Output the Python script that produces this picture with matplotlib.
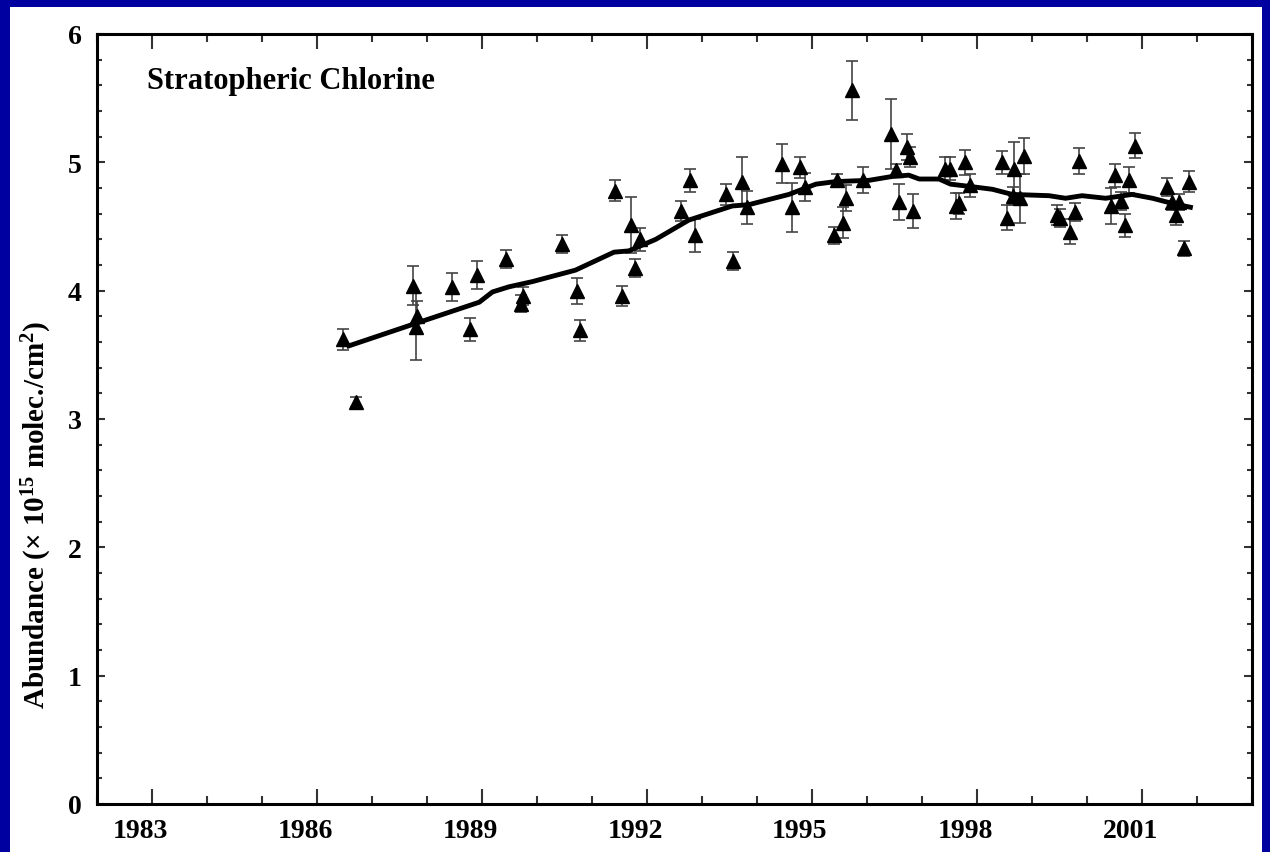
import matplotlib
matplotlib.use("Agg")
import matplotlib.pyplot as plt
import matplotlib.transforms as mtransforms
from matplotlib.patches import Rectangle
from matplotlib.ticker import MultipleLocator

plt.rcParams['font.family'] = ['Liberation Serif', 'DejaVu Serif']
plt.rcParams['font.weight'] = 'bold'
plt.rcParams['mathtext.fontset'] = 'custom'
plt.rcParams['mathtext.rm'] = 'Liberation Serif:bold'
plt.rcParams['mathtext.bf'] = 'Liberation Serif:bold'
plt.rcParams['mathtext.default'] = 'bf'

# measurements (year, abundance, 1-sigma)
obs_year = [1986.47, 1986.70, 1987.75, 1987.82, 1987.80, 1988.45, 1988.79, 1988.91,
            1989.44, 1989.70, 1989.75, 1990.45, 1990.73, 1990.78, 1991.42, 1991.55,
            1991.70, 1991.79, 1991.88, 1992.62, 1992.78, 1992.88, 1993.43, 1993.56,
            1993.72, 1993.81, 1994.45, 1994.64, 1994.78, 1994.87, 1995.40, 1995.46,
            1995.57, 1995.61, 1995.73, 1995.92, 1996.44, 1996.52, 1996.59, 1996.72,
            1996.78, 1996.84, 1997.42, 1997.50, 1997.61, 1997.67, 1997.79, 1997.88,
            1998.45, 1998.55, 1998.65, 1998.67, 1998.79, 1998.86, 1999.46, 1999.50,
            1999.69, 1999.78, 1999.85, 2000.43, 2000.51, 2000.61, 2000.69, 2000.76,
            2000.87, 2001.46, 2001.54, 2001.61, 2001.67, 2001.77, 2001.86]
obs_val = [3.62, 3.13, 4.04, 3.80, 3.72, 4.03, 3.70, 4.12,
           4.25, 3.90, 3.96, 4.36, 4.00, 3.69, 4.78, 3.96,
           4.51, 4.18, 4.40, 4.62, 4.86, 4.43, 4.75, 4.23,
           4.85, 4.65, 4.99, 4.65, 4.96, 4.81, 4.43, 4.86,
           4.53, 4.72, 5.56, 4.86, 5.22, 4.94, 4.69, 5.12,
           5.04, 4.62, 4.95, 4.95, 4.66, 4.68, 5.00, 4.82,
           5.00, 4.57, 4.74, 4.95, 4.72, 5.05, 4.59, 4.57,
           4.46, 4.61, 5.01, 4.66, 4.90, 4.70, 4.51, 4.86,
           5.13, 4.81, 4.69, 4.59, 4.69, 4.33, 4.85]
obs_err = [0.08, 0.04, 0.15, 0.12, 0.26, 0.11, 0.09, 0.11,
           0.07, 0.07, 0.07, 0.07, 0.10, 0.08, 0.08, 0.08,
           0.22, 0.07, 0.09, 0.08, 0.09, 0.13, 0.08, 0.07,
           0.19, 0.13, 0.15, 0.19, 0.08, 0.11, 0.07, 0.05,
           0.12, 0.10, 0.23, 0.10, 0.27, 0.05, 0.14, 0.10,
           0.08, 0.13, 0.09, 0.09, 0.10, 0.08, 0.10, 0.09,
           0.09, 0.10, 0.07, 0.21, 0.19, 0.14, 0.08, 0.07,
           0.10, 0.07, 0.10, 0.14, 0.09, 0.07, 0.09, 0.10,
           0.10, 0.07, 0.06, 0.08, 0.06, 0.06, 0.08]

# running mean curve
fit_year = [1986.58, 1987.76, 1988.95, 1989.19, 1989.49, 1989.91, 1990.70, 1991.40,
            1991.67, 1992.16, 1992.76, 1993.55, 1993.85, 1994.58, 1995.07, 1995.43,
            1996.04, 1996.46, 1996.76, 1996.95, 1997.31, 1997.52, 1997.91, 1998.28,
            1998.64, 1999.31, 1999.61, 1999.91, 2000.34, 2000.82, 2001.19, 2001.55,
            2001.88]
fit_val = [3.57, 3.74, 3.91, 3.99, 4.03, 4.07, 4.16, 4.30,
           4.31, 4.40, 4.55, 4.66, 4.67, 4.75, 4.83, 4.85,
           4.86, 4.89, 4.90, 4.87, 4.87, 4.83, 4.81, 4.79,
           4.75, 4.74, 4.72, 4.74, 4.72, 4.75, 4.72, 4.68,
           4.65]

year_ticks = [1983, 1986, 1989, 1992, 1995, 1998, 2001]

fig = plt.figure(figsize=(12.7, 8.53), dpi=100, facecolor='#0000a0')
fig.patches.append(Rectangle((10 / 1270, 0), 1252 / 1270, 845 / 853,
                             transform=fig.transFigure, facecolor='white',
                             edgecolor='none', zorder=-10))
ax = fig.add_axes([97 / 1270, 48 / 853, 1155 / 1270, 770 / 853])

ax.errorbar(obs_year, obs_val, yerr=obs_err, fmt='^', color='black', ms=10,
            ecolor='#444444', elinewidth=1.2, capsize=4.5, capthick=1.2)
ax.plot(fit_year, fit_val, color='black', lw=3.5)

ax.set_xlim(1982, 2003)
ax.set_ylim(0, 6)
ax.set_xticks(year_ticks)
ax.xaxis.set_minor_locator(MultipleLocator(1))
ax.yaxis.set_major_locator(MultipleLocator(1))
ax.yaxis.set_minor_locator(MultipleLocator(0.2))
ax.tick_params(axis='both', which='both', direction='in', top=True, right=True,
               labelsize=20, width=1.5, color='#333333')
ax.tick_params(axis='x', which='major', length=11, pad=10)
ax.tick_params(axis='x', which='minor', length=6)
ax.tick_params(axis='y', which='major', length=6, pad=11)
ax.tick_params(axis='y', which='minor', length=3.5)
for s in ax.spines.values():
    s.set_linewidth(2.2)

offset = mtransforms.ScaledTranslation(-0.12, 0, fig.dpi_scale_trans)
for lbl in ax.get_xticklabels():
    lbl.set_transform(lbl.get_transform() + offset)

ax.set_ylabel('Abundance (× 10$^{15}$ molec./cm$^{2}$)', fontsize=21,
              fontweight='bold')
ax.yaxis.set_label_coords(-0.037, 0.377)
ax.text(0.043, 0.939, 'Stratopheric Chlorine', transform=ax.transAxes,
        fontsize=22, fontweight='bold', ha='left', va='center')

fig.savefig('out.png', dpi=100, facecolor=fig.get_facecolor())
